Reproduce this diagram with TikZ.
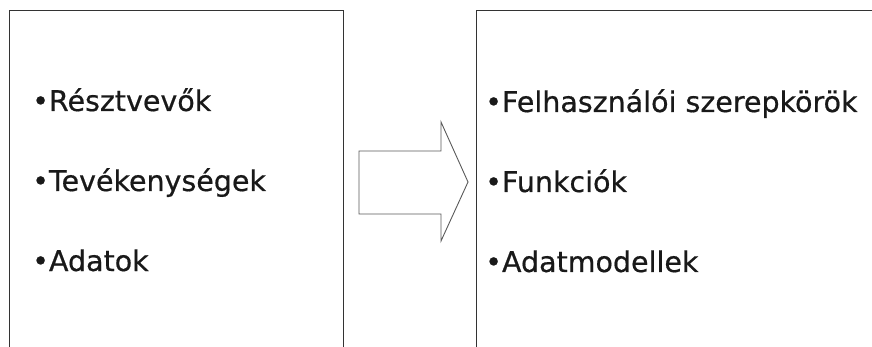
\documentclass[tikz,border=0pt]{standalone}
\usepackage{fontspec}
\setmainfont[FakeBold=0.6]{DejaVu Sans}
\begin{document}
\begin{tikzpicture}[x=1pt,y=-1pt,
  boxline/.style={draw=black!80,line width=1pt},
  arrowline/.style={draw=black!65,line width=0.9pt,line join=miter},
  item/.style={anchor=base west,inner sep=0pt,font=\fontsize{28.5}{32}\selectfont,text=black!90}]
\useasboundingbox (0,0) rectangle (872,347);
\coordinate (lb) at (9,348);
\coordinate (lt) at (9,11);
\coordinate (rt) at (343,11);
\coordinate (rb) at (343,348);
\draw[boxline] (lb) -- (lt) -- (rt) -- (rb);
\coordinate (Lb) at (476.5,348);
\coordinate (Lt) at (476.5,11);
\coordinate (Rt) at (873,11);
\draw[boxline] (Lb) -- (Lt) -- (Rt);
\draw[arrowline] (359,151) -- (441,151) -- (441,122) -- (468,182) -- (441,241) -- (441,214) -- (359,214) -- cycle;
\node[item] (a1) at (32,111) {•Résztvevők};
\node[item] (a2) at (32,191) {•Tevékenységek};
\node[item] (a3) at (32,271) {•Adatok};
\node[item] (b1) at (485,112) {•Felhasználói szerepkörök};
\node[item] (b2) at (485,192) {•Funkciók};
\node[item] (b3) at (485,272) {•Adatmodellek};
\end{tikzpicture}
\end{document}
